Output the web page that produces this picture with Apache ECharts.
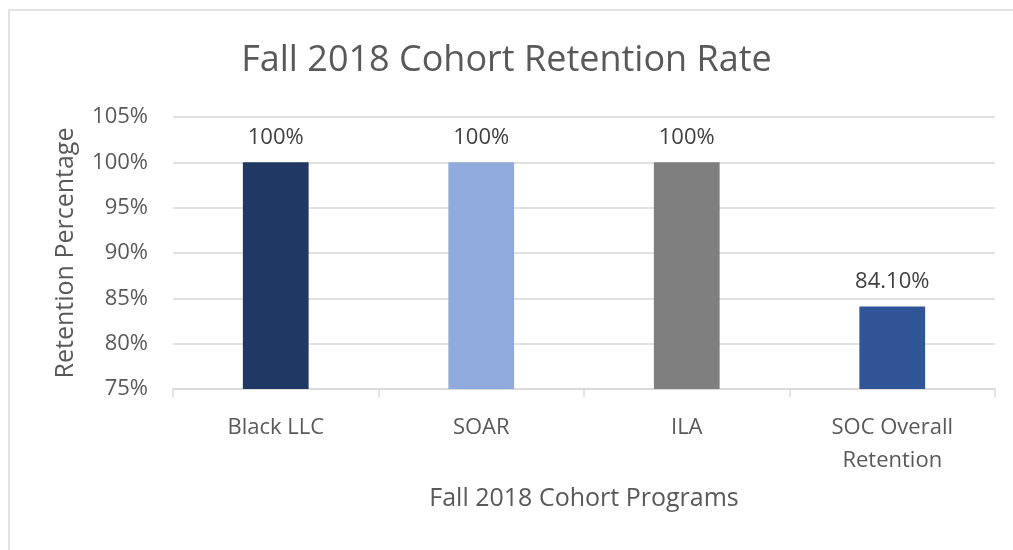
<!DOCTYPE html>
<html><head><meta charset="utf-8">
<script src="https://cdn.jsdelivr.net/npm/echarts@6/dist/echarts.min.js"></script>
<style>html,body{margin:0;padding:0;background:#fff}#c{width:1013px;height:550px}</style>
</head><body><div id="c"></div>
<script>
const categories = ['Black LLC', 'SOAR', 'ILA', 'SOC Overall\nRetention'];
const values = [100, 100, 100, 84.1];
const valueLabels = ['100%', '100%', '100%', '84.10%'];
const barColors = ['#203864', '#8FAADC', '#7F7F7F', '#2F5597'];
const yTicks = [75, 80, 85, 90, 95, 100, 105];

const FONT = 'Open Sans';
const chart = echarts.init(document.getElementById('c'));
chart.setOption({
  animation: false,
  textStyle: { fontFamily: FONT },
  graphic: [{
    type: 'rect', shape: { x: 9, y: 10, width: 1100, height: 600 },
    style: { fill: 'none', stroke: '#d9d9d9', lineWidth: 1.5 }, silent: true, z: -1
  }],
  title: {
    text: 'Fall 2018 Cohort Retention Rate', left: 'center', top: 38,
    textStyle: { fontFamily: FONT, fontSize: 36, fontWeight: 'normal', color: '#595959' }
  },
  grid: { left: 173, right: 18, top: 117, bottom: 161 },
  xAxis: {
    type: 'category', data: categories,
    name: 'Fall 2018 Cohort Programs', nameLocation: 'middle', nameGap: 97,
    nameTextStyle: { fontFamily: FONT, fontSize: 25, color: '#595959' },
    axisLine: { lineStyle: { color: '#d9d9d9', width: 1.5 } },
    axisTick: { show: true, length: 8, lineStyle: { color: '#d9d9d9', width: 1.5 } },
    axisLabel: { fontFamily: FONT, fontSize: 22, color: '#595959', margin: 22, lineHeight: 33 }
  },
  yAxis: {
    type: 'value', min: 75, max: 105, interval: 5,
    name: 'Retention Percentage', nameLocation: 'middle', nameGap: 95, nameRotate: 90,
    nameTextStyle: { fontFamily: FONT, fontSize: 25, color: '#595959' },
    axisLine: { show: false }, axisTick: { show: false },
    splitLine: { lineStyle: { color: '#d9d9d9', width: 1.5 } },
    axisLabel: {
      fontFamily: FONT, fontSize: 22, color: '#595959', margin: 25,
      formatter: v => yTicks.includes(v) ? v + '%' : ''
    }
  },
  series: [{
    type: 'bar', barWidth: '32%',
    data: values.map((v, i) => ({ value: v, itemStyle: { color: barColors[i] } })),
    label: {
      show: true, position: 'top', distance: 14,
      fontFamily: FONT, fontSize: 22, color: '#404040',
      formatter: p => valueLabels[p.dataIndex]
    }
  }]
});
</script></body></html>
